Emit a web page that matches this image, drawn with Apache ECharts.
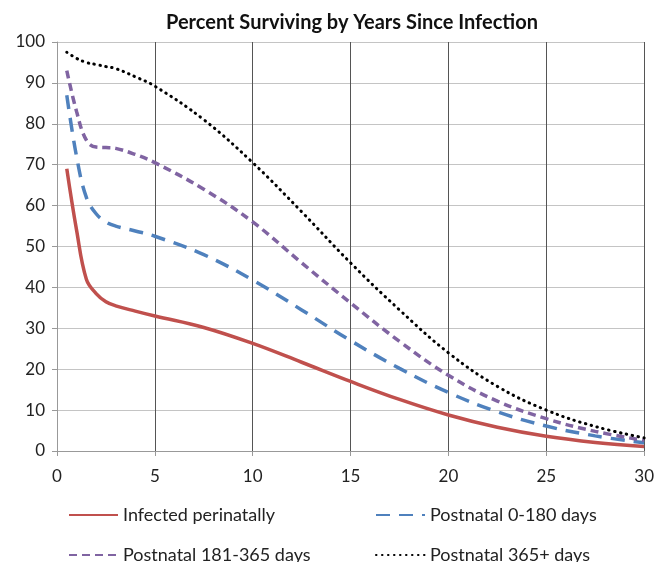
<!DOCTYPE html>
<html>
<head>
<meta charset="utf-8">
<script src="https://cdn.jsdelivr.net/npm/echarts@6/dist/echarts.min.js"></script>
<style>
  html, body { margin: 0; padding: 0; background: #fff; }
  #chart { width: 657px; height: 562px; }
</style>
</head>
<body>
<div id="chart"></div>
<script>
// years since infection
const years = [0.5, 1, 1.5, 2, 2.5, 3, 4, 5, 7.5, 10, 12.5, 15, 17.5, 20, 22.5, 25, 27.5, 30];

// percent surviving
const perinatal = [69, 54, 42, 38.5, 36.5, 35.5, 34.2, 33, 30.2, 26.3, 21.7, 17, 12.6, 8.8, 5.8, 3.6, 2.1, 1.1];
const postnatal0to180 = [87, 72, 62, 58, 56, 55, 53.8, 52.5, 48, 41.8, 34.5, 27, 20.2, 14.3, 9.6, 6.1, 3.7, 2];
const postnatal181to365 = [93, 83, 76, 74.3, 74.2, 74, 72.5, 70.5, 64, 56, 46, 36.2, 26.8, 18.5, 12.2, 7.9, 4.8, 2.6];
const postnatal365plus = [97.5, 96, 95, 94.5, 94, 93.5, 91.5, 89.2, 81, 70.5, 58.5, 46, 34.5, 24, 15.8, 10, 6, 3.2];

const seriesNames = ['Infected perinatally', 'Postnatal 0-180 days', 'Postnatal 181-365 days', 'Postnatal 365+ days'];

const font = 'Lato, "Open Sans", sans-serif';

function pairs(vals) {
  return years.map((x, i) => [x, vals[i]]);
}

const chart = echarts.init(document.getElementById('chart'));

// legend shows only the line sample, no marker
const legendBase = {
  itemWidth: 49,
  itemHeight: 12,
  itemGap: 5,
  itemStyle: { opacity: 0 },
  textStyle: { fontFamily: font, fontSize: 18, color: '#222' }
};

const option = {
  animation: false,
  title: {
    text: 'Percent Surviving by Years Since Infection',
    left: 347,
    textAlign: 'center',
    top: 8,
    textStyle: { fontFamily: font, fontSize: 20, fontWeight: 'bold', color: '#111' }
  },
  legend: [
    Object.assign({ data: [seriesNames[0]], left: 63, top: 501 }, legendBase),
    Object.assign({ data: [seriesNames[1]], left: 370, top: 501 }, legendBase),
    Object.assign({ data: [seriesNames[2]], left: 63, top: 541 }, legendBase),
    Object.assign({ data: [seriesNames[3]], left: 370, top: 541 }, legendBase)
  ],
  grid: { left: 57, right: 12, top: 42, bottom: 111 },
  xAxis: {
    type: 'value',
    min: 0,
    max: 30,
    interval: 5,
    axisLine: { show: true, lineStyle: { color: '#999' } },
    axisTick: { show: true, length: 5, lineStyle: { color: '#999' } },
    axisLabel: { fontFamily: font, fontSize: 17, color: '#222', margin: 17 },
    splitLine: { show: true, lineStyle: { color: '#555', width: 1 } }
  },
  yAxis: {
    type: 'value',
    min: 0,
    max: 100,
    interval: 10,
    axisLine: { show: true, lineStyle: { color: '#999' } },
    axisTick: { show: true, length: 5, lineStyle: { color: '#999' } },
    axisLabel: { fontFamily: font, fontSize: 17, color: '#222', margin: 12 },
    splitLine: { show: true, lineStyle: { color: '#c4c4c4', width: 1 } }
  },
  series: [
    {
      name: seriesNames[0],
      type: 'line',
      smooth: 0.4,
      symbol: 'none',
      data: pairs(perinatal),
      color: '#C0504D',
      lineStyle: { color: '#C0504D', width: 3.5 }
    },
    {
      name: seriesNames[1],
      type: 'line',
      smooth: 0.4,
      symbol: 'none',
      data: pairs(postnatal0to180),
      color: '#4F81BD',
      lineStyle: { color: '#4F81BD', width: 3.5, type: [14, 9] }
    },
    {
      name: seriesNames[2],
      type: 'line',
      smooth: 0.4,
      symbol: 'none',
      data: pairs(postnatal181to365),
      color: '#8064A2',
      lineStyle: { color: '#8064A2', width: 3.5, type: [8, 5] }
    },
    {
      name: seriesNames[3],
      type: 'line',
      smooth: 0.4,
      symbol: 'none',
      data: pairs(postnatal365plus),
      color: '#000',
      lineStyle: { color: '#000', width: 3, type: [0.5, 5.5], cap: 'round' }
    }
  ]
};

chart.setOption(option);
</script>
</body>
</html>
